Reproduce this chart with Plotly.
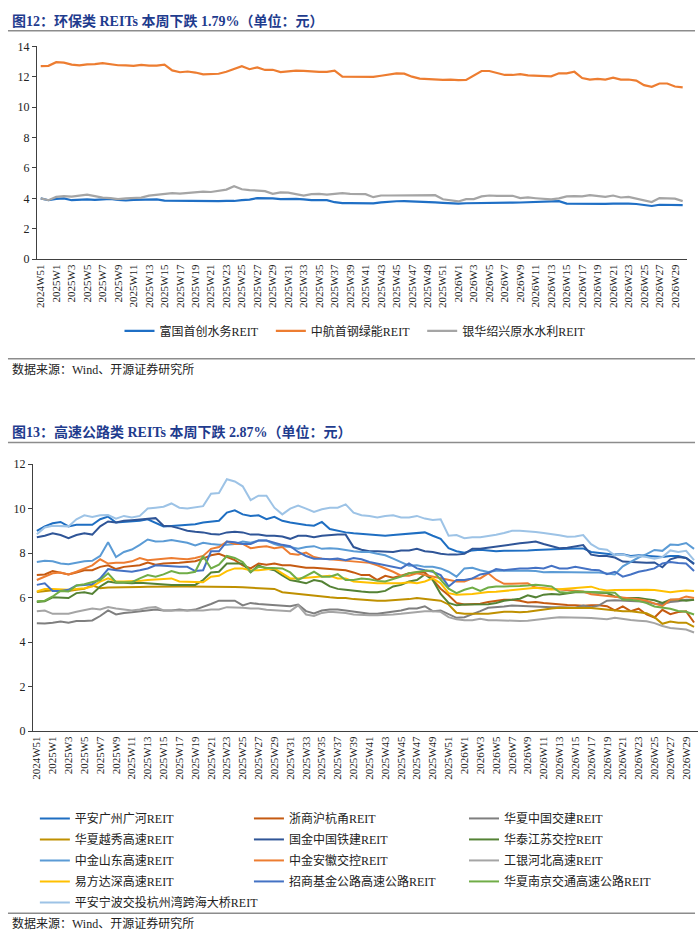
import plotly.graph_objects as go

# x categories: weekly, 2024W51 .. 2026W30
weeks = ["2024W51", "2024W52"] + [f"2025W{k}" for k in range(1, 53)] + [f"2026W{k}" for k in range(1, 31)]

# ---- chart 12: environmental REITs ----
env_names = ["富国首创水务REIT", "中航首钢绿能REIT", "银华绍兴原水水利REIT"]
env_colors = ["#1F6FC5", "#ED7D31", "#A5A5A5"]

fuguo = [4.00, 3.88, 3.97, 4.00, 3.88, 3.90, 3.93, 3.90, 3.92, 3.97, 3.90, 3.86, 3.90, 3.92, 3.93,
         3.93, 3.85, 3.84, 3.83, 3.84, 3.85, 3.84, 3.80, 3.82, 3.84, 3.83, 3.88, 3.92, 4.02, 4.03,
         4.00, 3.95, 3.97, 3.97, 3.93, 3.88, 3.88, 3.88, 3.75,
         3.69, 3.69, 3.69, 3.68, 3.67, 3.74, 3.80, 3.81, 3.82, 3.81, 3.80, 3.78, 3.74, 3.71, 3.67,
         3.65, 3.68, 3.68, 3.72, 3.72, 3.72, 3.72, 3.72, 3.73, 3.74, 3.75, 3.76, 3.79, 3.82, 3.66,
         3.65, 3.64, 3.63, 3.63, 3.64, 3.65, 3.66, 3.66, 3.63, 3.59, 3.50, 3.58, 3.58, 3.56, 3.56]
zhonghang = [12.70, 12.72, 12.96, 12.93, 12.80, 12.75, 12.82, 12.83, 12.90, 12.84, 12.76, 12.75, 12.72,
             12.79, 12.74, 12.74, 12.80, 12.42, 12.30, 12.35, 12.28, 12.16, 12.20, 12.20, 12.33, 12.52,
             12.70, 12.50, 12.62, 12.45, 12.46, 12.31, 12.36, 12.40, 12.39, 12.35, 12.33, 12.33, 12.40,
             12.01, 12.01, 12.01, 11.99, 11.99, 12.07, 12.14, 12.23, 12.21, 12.01, 11.88, 11.84, 11.82,
             11.80, 11.82, 11.78, 11.80, 12.10, 12.38, 12.38, 12.23, 12.12, 12.12, 12.18, 12.10, 12.07,
             12.05, 12.03, 12.23, 12.23, 12.33, 11.92, 11.82, 11.86, 11.82, 11.95, 11.82, 11.82, 11.75,
             11.45, 11.34, 11.56, 11.56, 11.36, 11.30]
yinhua = [4.00, 3.88, 4.10, 4.15, 4.12, 4.18, 4.25, 4.15, 4.05, 4.02, 3.95, 4.00, 4.02, 4.05, 4.18,
          4.25, 4.32, 4.35, 4.32, 4.35, 4.40, 4.45, 4.42, 4.50, 4.58, 4.80, 4.60, 4.55, 4.52, 4.48,
          4.30, 4.40, 4.38, 4.30, 4.18, 4.28, 4.30, 4.25, 4.30,
          4.34, 4.30, 4.28, 4.28, 4.08, 4.19, 4.19, 4.19, 4.18, 4.17, 4.17, 4.18, 4.21, 3.94, 3.85,
          3.80, 3.95, 3.95, 4.13, 4.19, 4.17, 4.17, 4.17, 4.02, 4.06, 4.01, 3.98, 3.93, 4.00, 4.13,
          4.15, 4.13, 4.21, 4.17, 4.10, 4.19, 4.06, 4.10, 4.00, 3.91, 3.76, 4.02, 4.02, 3.98, 3.82]
env_values = [fuguo, zhonghang, yinhua]

# ---- chart 13: highway REITs ----
hw_names = ["平安广州广河REIT", "浙商沪杭甬REIT", "华夏中国交建REIT",
            "华夏越秀高速REIT", "国金中国铁建REIT", "华泰江苏交控REIT",
            "中金山东高速REIT", "中金安徽交控REIT", "工银河北高速REIT",
            "易方达深高速REIT", "招商基金公路高速公路REIT", "华夏南京交通高速公路REIT",
            "平安宁波交投杭州湾跨海大桥REIT"]
hw_colors = ["#1E6EC2", "#C55A11", "#7F7F7F", "#BF9000", "#2F5597", "#548235", "#5B9BD5",
             "#ED7D31", "#A5A5A5", "#FFC000", "#4472C4", "#70AD47", "#9DC3E6"]

guanghe = [9.00, 9.20, 9.34, 9.40, 9.20, 9.27, 9.27, 9.27, 9.52, 9.64, 9.37, 9.40, 9.40, 9.45, 9.52,
           9.37, 9.20, 9.22, 9.25, 9.25, 9.30, 9.37, 9.42, 9.45, 9.82, 9.92, 9.74, 9.67, 9.70,
           9.52, 9.63, 9.45, 9.37, 9.30, 9.26, 9.23, 9.40, 9.08, 9.00, 8.93, 8.89, 8.86, 8.81, 8.78,
           8.78, 8.81, 8.84, 8.86, 8.90, 8.93, 8.78, 8.64, 8.22, 8.08, 8.02, 8.12, 8.15,
           8.10, 8.08, 8.10, 8.10, 8.12, 8.12, 8.14, 8.16, 8.18, 8.20, 8.19, 8.20, 8.21, 8.05, 8.00,
           7.97, 7.93, 7.95, 7.87, 7.90, 7.87, 7.84, 7.82, 7.87, 7.87, 7.78, 7.53]
huhangyong = [7.01, 7.04, 7.19, 7.13, 7.04, 7.13, 7.23, 7.23, 7.38, 7.45, 7.28, 7.38, 7.43, 7.45, 7.57,
              7.48, 7.53, 7.53, 7.56, 7.60, 7.63, 7.75, 7.90, 7.97, 7.82, 7.68, 7.45, 7.31, 7.53,
              7.48, 7.53, 7.45, 7.45, 7.38, 7.34, 7.34, 7.31, 7.31, 7.26, 7.23, 7.13, 7.01, 7.01, 6.79,
              6.98, 6.89, 6.98, 7.09, 7.13, 7.13, 6.80, 6.40, 6.10, 5.76, 5.69, 5.69, 5.72,
              5.80, 5.86, 5.90, 5.90, 5.86, 5.78, 5.80, 5.76, 5.72, 5.69, 5.67, 5.65, 5.63, 5.65, 5.65,
              5.61, 5.42, 5.60, 5.39, 5.50, 5.24, 5.10, 5.45, 5.25, 5.35, 5.38, 4.88]
zhongjiao = [4.84, 4.83, 4.87, 4.92, 4.87, 4.95, 4.95, 4.97, 5.17, 5.42, 5.24, 5.31, 5.34, 5.39, 5.42,
             5.46, 5.42, 5.42, 5.46, 5.42, 5.46, 5.57, 5.71, 5.86, 5.86, 5.86, 5.65, 5.76, 5.71,
             5.69, 5.65, 5.64, 5.61, 5.69, 5.39, 5.29, 5.42, 5.46, 5.46, 5.42, 5.36, 5.31, 5.27, 5.27,
             5.31, 5.36, 5.42, 5.51, 5.51, 5.61, 5.39, 5.42, 5.24, 5.09, 5.12, 5.24, 5.39,
             5.54, 5.56, 5.60, 5.64, 5.62, 5.61, 5.61, 5.58, 5.57, 5.56, 5.54, 5.54, 5.64, 5.57, 5.65,
             5.86, 5.88, 5.87, 5.84, 5.83, 5.81, 5.72, 5.70, 5.80, 5.83, 5.90, 5.90]
yuexiu = [6.25, 6.30, 6.33, 6.33, 6.30, 6.35, 6.39, 6.55, 6.42, 6.45, 6.45, 6.46, 6.47, 6.48, 6.49,
          6.50, 6.50, 6.50, 6.50, 6.50, 6.50, 6.50, 6.50, 6.50, 6.50, 6.48, 6.46, 6.44, 6.42,
          6.40, 6.39, 6.24, 6.20, 6.16, 6.10, 6.08, 6.05, 6.01, 5.98, 5.98, 5.93, 5.90, 5.88, 5.86,
          5.86, 5.88, 5.90, 5.93, 5.98, 5.95, 5.90, 5.86, 5.69, 5.32, 5.27, 5.27, 5.27,
          5.27, 5.32, 5.36, 5.36, 5.34, 5.36, 5.41, 5.48, 5.51, 5.54, 5.54, 5.54, 5.54, 5.53, 5.50,
          5.46, 5.42, 5.39, 5.38, 5.35, 5.30, 5.12, 4.82, 4.92, 4.87, 4.87, 4.68]
tiejian = [8.71, 8.78, 8.89, 8.81, 8.67, 8.81, 8.89, 8.83, 9.20, 9.42, 9.37, 9.45, 9.48, 9.52, 9.55,
           9.57, 9.23, 9.20, 9.11, 9.00, 8.96, 8.93, 8.86, 8.83, 8.93, 8.96, 8.93, 8.83, 8.83,
           8.78, 8.78, 8.74, 8.64, 8.78, 8.78, 8.71, 8.78, 8.81, 8.83, 8.83, 8.27, 8.15, 8.08, 8.08,
           8.05, 8.05, 8.12, 8.12, 8.19, 8.08, 8.05, 7.97, 7.93, 7.93, 7.97, 8.19, 8.19,
           8.24, 8.31, 8.37, 8.41, 8.44, 8.48, 8.52, 8.41, 8.30, 8.22, 8.24, 8.30, 8.36, 7.93, 7.87,
           7.87, 7.80, 7.62, 7.60, 7.60, 7.57, 7.58, 7.36, 7.72, 7.82, 7.78, 7.50]
jiangsu = [5.80, 5.83, 6.01, 6.01, 5.98, 6.20, 6.24, 6.16, 6.50, 6.72, 6.67, 6.67, 6.64, 6.67, 6.64,
           6.64, 6.60, 6.57, 6.57, 6.57, 6.57, 6.79, 7.13, 7.16, 7.53, 7.53, 7.53, 7.13, 7.45,
           7.30, 7.23, 7.00, 6.79, 6.72, 6.64, 6.79, 6.72, 6.50, 6.39, 6.35, 6.30, 6.27, 6.24, 6.24,
           6.30, 6.50, 6.57, 6.72, 6.79, 7.04, 6.79, 6.16, 5.76, 5.65, 5.69, 5.69, 5.69,
           5.70, 5.76, 5.86, 5.90, 5.95, 6.10, 6.01, 6.13, 6.16, 6.14, 6.20, 6.24, 6.24, 6.24, 6.22,
           6.20, 6.05, 5.98, 5.98, 5.98, 5.93, 5.88, 5.76, 5.90, 5.90, 5.86, 5.90]
shandong = [7.60, 7.65, 7.63, 7.53, 7.50, 7.57, 7.63, 7.65, 7.87, 8.49, 7.82, 8.05, 8.16, 8.37, 8.61,
            8.52, 8.53, 8.59, 8.52, 8.46, 8.34, 8.46, 8.41, 8.37, 8.37, 8.41, 8.52, 8.46, 8.56,
            8.56, 8.41, 8.31, 8.27, 8.19, 8.27, 8.31, 8.19, 8.22, 8.19, 8.12, 8.08, 8.05, 8.05, 7.97,
            7.90, 7.75, 7.60, 7.43, 7.45, 7.38, 7.38, 7.31, 7.16, 6.94, 7.31, 7.34, 7.23,
            7.15, 7.20, 7.20, 7.23, 7.23, 7.21, 7.19, 7.14, 7.15, 7.14, 7.13, 7.13, 7.13, 7.13, 7.13,
            7.10, 7.04, 7.40, 7.60, 7.80, 7.95, 8.14, 8.10, 8.38, 8.36, 8.45, 8.19]
anhui = [6.79, 6.94, 7.09, 7.13, 7.04, 7.16, 7.31, 7.45, 7.72, 7.53, 7.56, 7.57, 7.63, 7.78, 7.68,
         7.72, 7.75, 7.78, 7.75, 7.72, 7.78, 7.87, 8.19, 8.27, 8.52, 8.41, 8.41, 8.22, 8.27,
         8.31, 8.22, 8.27, 7.97, 7.93, 8.02, 7.82, 7.75, 7.72, 7.68, 7.68, 7.63, 7.60, 7.56, 7.45,
         7.31, 7.16, 6.98, 6.98, 7.09, 7.01, 6.94, 6.86, 6.79, 6.72, 6.72, 6.86, 6.86,
         7.09, 6.80, 6.62, 6.62, 6.64, 6.64, 6.45, 6.42, 6.42, 6.38, 6.35, 6.31, 6.27, 6.15, 6.11,
         6.08, 6.05, 6.01, 5.98, 5.92, 5.86, 5.75, 5.61, 5.90, 5.92, 6.05, 5.98]
hebei = [5.39, 5.42, 5.27, 5.27, 5.27, 5.36, 5.42, 5.51, 5.46, 5.57, 5.51, 5.46, 5.42, 5.46, 5.54,
         5.57, 5.42, 5.42, 5.42, 5.42, 5.42, 5.42, 5.46, 5.46, 5.57, 5.57, 5.54, 5.51, 5.51,
         5.45, 5.42, 5.39, 5.39, 5.65, 5.24, 5.17, 5.31, 5.36, 5.34, 5.31, 5.24, 5.24, 5.21, 5.20,
         5.21, 5.24, 5.27, 5.31, 5.36, 5.39, 5.39, 5.36, 5.12, 5.02, 4.98, 4.98, 5.05,
         4.98, 4.98, 4.96, 4.95, 4.95, 4.96, 4.99, 5.02, 5.08, 5.12, 5.12, 5.10, 5.09, 5.08, 5.05,
         5.03, 5.09, 5.03, 4.99, 4.96, 4.93, 4.85, 4.72, 4.63, 4.61, 4.56, 4.43]
shengaosu = [6.27, 6.39, 6.39, 6.38, 6.35, 6.39, 6.42, 6.50, 6.72, 6.86, 6.72, 6.72, 6.72, 6.75, 6.79,
             6.82, 6.82, 6.86, 6.72, 6.72, 6.72, 6.69, 6.94, 6.98, 7.19, 7.31, 7.31, 7.23, 7.23,
             7.27, 7.31, 7.09, 6.86, 6.86, 6.89, 6.89, 6.94, 6.98, 6.86, 6.86, 6.72, 6.69, 6.64, 6.64,
             6.64, 6.64, 6.64, 6.69, 6.64, 6.72, 6.86, 6.64, 6.20, 6.13, 6.13, 6.16, 6.20,
             6.25, 6.26, 6.29, 6.33, 6.37, 6.41, 6.44, 6.40, 6.36, 6.37, 6.40, 6.43, 6.46, 6.49, 6.38,
             6.32, 6.34, 6.35, 6.35, 6.35, 6.35, 6.34, 6.30, 6.24, 6.28, 6.32, 6.30]
zhaoshang = [6.57, 6.64, 6.30, 6.30, 6.35, 6.54, 6.57, 6.60, 6.86, 7.28, 7.23, 7.19, 7.16, 7.23, 7.31,
             7.45, 7.43, 7.38, 7.38, 7.38, 7.19, 7.23, 8.08, 8.08, 8.52, 8.49, 8.41, 8.41, 8.56,
             8.56, 8.46, 8.37, 8.31, 8.05, 7.87, 7.75, 7.75, 7.72, 7.75, 7.68, 7.78, 7.72, 7.60, 7.53,
             7.43, 7.38, 7.31, 7.53, 7.31, 7.23, 7.16, 7.01, 6.50, 6.79, 6.79, 6.86, 7.04,
             7.10, 7.28, 7.23, 7.28, 7.31, 7.31, 7.34, 7.31, 7.43, 7.31, 7.31, 7.38, 7.31, 7.25, 7.23,
             7.05, 7.16, 6.94, 7.04, 7.16, 7.23, 7.31, 7.53, 7.60, 7.55, 7.53, 7.19]
nanjing = [5.83, 5.86, 6.05, 6.30, 6.27, 6.54, 6.60, 6.69, 6.79, 7.09, 6.69, 6.69, 6.69, 6.86, 7.01,
           6.94, 7.04, 7.19, 7.09, 7.09, 7.16, 7.87, 7.31, 7.48, 7.87, 7.78, 7.60, 7.16, 7.38,
           7.34, 7.31, 7.31, 7.13, 6.79, 6.98, 7.16, 6.94, 6.94, 7.05, 6.79, 6.79, 6.86, 6.82, 6.75,
           6.72, 6.82, 6.94, 7.09, 7.16, 7.20, 7.20, 6.80, 6.40, 6.20, 6.35, 6.45, 6.30,
           6.45, 6.50, 6.50, 6.50, 6.52, 6.54, 6.58, 6.54, 6.50, 6.25, 6.22, 6.27, 6.26, 6.24, 6.24,
           6.24, 6.22, 5.90, 5.90, 5.85, 5.75, 5.60, 5.54, 5.50, 5.40, 5.36, 5.24]
ningbo = [8.85, 9.15, 9.23, 9.23, 9.20, 9.52, 9.70, 9.62, 9.70, 9.71, 9.55, 9.67, 9.60, 9.67, 10.00,
          10.04, 10.08, 10.23, 10.04, 10.00, 10.04, 10.11, 10.67, 10.70, 11.32, 11.22, 11.00, 10.38, 10.58,
          10.58, 10.04, 9.74, 10.00, 10.14, 10.00, 9.85, 9.97, 10.04, 10.04, 10.19, 9.82, 9.70, 9.67, 9.60,
          9.67, 9.70, 9.60, 9.60, 9.67, 9.55, 9.49, 9.52, 8.78, 8.81, 8.67, 8.71, 8.71,
          8.75, 8.82, 8.90, 9.00, 9.00, 8.98, 8.95, 8.90, 8.86, 8.80, 8.73, 8.75, 8.81, 8.40, 8.19,
          8.15, 7.90, 7.93, 7.82, 7.87, 7.82, 7.75, 7.82, 8.12, 8.05, 8.10, 7.68]
hw_values = [guanghe, huhangyong, zhongjiao, yuexiu, tiejian, jiangsu, shandong,
             anhui, hebei, shengaosu, zhaoshang, nanjing, ningbo]

W, H = 700, 939
SERIF = "Liberation Serif, Noto Sans CJK SC"
LEG_FONT = dict(family=SERIF, size=12, color="#222")


def py(px):
    # pixel row -> paper y
    return 1 - px / H


fig = go.Figure()

# chart 12: one small legend per entry so the three can sit at fixed spots
env_legends = ["legend", "legend3", "legend4"]
for name, color, vals, leg in zip(env_names, env_colors, env_values, env_legends):
    fig.add_trace(go.Scatter(x=weeks, y=vals, name=name, mode="lines",
                             line=dict(color=color, width=2.2),
                             xaxis="x", yaxis="y", legend=leg))

# chart 13: three legend columns, row-major order like the original
hw_legends = ["legend2", "legend5", "legend6"]
for k, (name, color, vals) in enumerate(zip(hw_names, hw_colors, hw_values)):
    fig.add_trace(go.Scatter(x=weeks, y=vals, name=name, mode="lines",
                             line=dict(color=color, width=2), legendgroup=name,
                             xaxis="x2", yaxis="y2", legend=hw_legends[k % 3]))

xcommon = dict(type="category", range=[-0.5, len(weeks) - 0.5],
               tickvals=weeks[::2], ticktext=weeks[::2], tickangle=-90,
               showline=True, linecolor="#404040", linewidth=1, ticks="",
               showgrid=False, zeroline=False,
               tickfont=dict(family=SERIF, size=11, color="#222"))
ycommon = dict(showline=True, linecolor="#404040", linewidth=1, ticks="outside",
               ticklen=4, tickcolor="#404040", showgrid=False, zeroline=False,
               tickfont=dict(family=SERIF, size=12, color="#222"))


def leg(xpx, ypx):
    return dict(orientation="v", x=(xpx - 9) / W, y=py(ypx), xanchor="left", yanchor="top",
                font=LEG_FONT, bgcolor="rgba(0,0,0,0)", tracegroupgap=2)


fig.update_layout(
    width=W, height=H,
    margin=dict(l=0, r=0, t=0, b=0),
    paper_bgcolor="white", plot_bgcolor="white",
    xaxis=dict(domain=[34 / W, 686.5 / W], anchor="y", **xcommon),
    yaxis=dict(domain=[py(256), py(40)], anchor="x", range=[0, 14], dtick=2, **ycommon),
    xaxis2=dict(domain=[30 / W, 698 / W], anchor="y2", **xcommon),
    yaxis2=dict(domain=[py(735), py(464)], anchor="x2", range=[0, 12], dtick=2, **ycommon),
    legend=leg(126, 314), legend3=leg(278, 314), legend4=leg(430, 314),
    legend2=leg(41, 809), legend5=leg(256, 809), legend6=leg(472, 809),
    showlegend=True,
)

title_font = dict(family=SERIF, size=14, color="#1F3C8E")
src_font = dict(family=SERIF, size=12, color="#222")
annotations = [
    dict(text="<b>图12：环保类 REITs 本周下跌 1.79%（单位：元）</b>", x=7 / W, y=py(14),
         xanchor="left", yanchor="middle", font=title_font),
    dict(text="数据来源：Wind、开源证券研究所", x=7 / W, y=py(368),
         xanchor="left", yanchor="middle", font=src_font),
    dict(text="<b>图13：高速公路类 REITs 本周下跌 2.87%（单位：元）</b>", x=7 / W, y=py(431),
         xanchor="left", yanchor="middle", font=title_font),
    dict(text="数据来源：Wind、开源证券研究所", x=7 / W, y=py(930),
         xanchor="left", yanchor="middle", font=src_font),
]
for a in annotations:
    a.update(xref="paper", yref="paper", showarrow=False)
fig.update_layout(annotations=annotations)

shapes = []
for ypx in [24, 357, 442, 920]:
    shapes.append(dict(type="line", xref="paper", yref="paper", x0=5 / W, x1=695 / W,
                       y0=py(ypx), y1=py(ypx), line=dict(color="#8C8C8C", width=1.5)))
fig.update_layout(shapes=shapes)

# drop the browser's default body margin so the figure sits at the page corner
fig.write_html("out.html", config={"displayModeBar": False},
               post_script="document.body.style.margin='0px';")
